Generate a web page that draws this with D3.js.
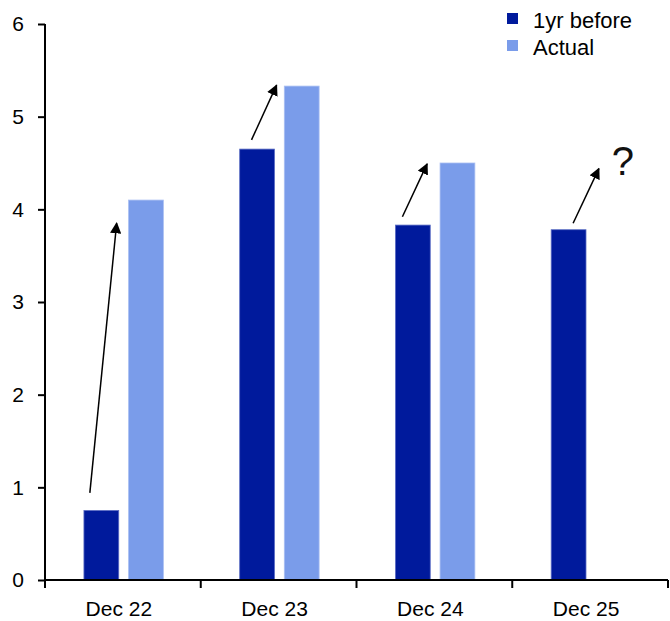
<!DOCTYPE html>
<html>
<head>
<meta charset="utf-8">
<script src="https://cdn.jsdelivr.net/npm/d3@7"></script>
<style>
  html, body { margin: 0; padding: 0; background: #fff; }
  svg { display: block; font-family: "Liberation Sans", Arial, sans-serif; }
</style>
</head>
<body>
<svg id="chart" width="670" height="621"></svg>
<script>
// Forecast made one year before vs. the actual outcome, per December
const categories = ["Dec 22", "Dec 23", "Dec 24", "Dec 25"];
const series = ["1yr before", "Actual"];
const yearBefore = [0.75, 4.65, 3.83, 3.78];
const actual = [4.10, 5.33, 4.50, null];
const yTicks = [0, 1, 2, 3, 4, 5, 6];

// Arrows from the earlier forecast up toward the outcome (values on the y scale)
const arrowFrom = [0.94, 4.75, 3.92, 3.85];
const arrowTo = [3.85, 5.34, 4.49, 4.44];
// Horizontal placement of arrow ends, in widths of one bar from the dark bar's left edge
const arrowFromDx = [0.17, 0.34, 0.20, 0.63];
const arrowToDx = [0.94, 1.06, 0.91, 1.37];
const pendingMark = "?";

const colors = { "1yr before": "#001A9C", "Actual": "#7A9CEA" };

const svg = d3.select("#chart");
const plotLeft = 45, plotRight = 668, plotTop = 24, plotBottom = 580;

const x = d3.scaleBand().domain(categories).range([plotLeft, plotRight]).padding(0);
const bw = x.bandwidth();
const inner = d3.scaleBand().domain(series)
  .range([0.25 * bw, 0.76 * bw]).paddingInner(0.22);
const y = d3.scaleLinear().domain([0, 6]).range([plotBottom, plotTop]);

const rows = categories.map((c, i) => ({
  cat: c, i,
  vals: [
    { s: "1yr before", v: yearBefore[i] },
    { s: "Actual", v: actual[i] }
  ].filter(d => d.v != null)
}));

// bars
const groups = svg.append("g").selectAll("g").data(rows).join("g")
  .attr("transform", d => `translate(${x(d.cat)},0)`);
groups.selectAll("rect").data(d => d.vals).join("rect")
  .attr("x", d => inner(d.s))
  .attr("width", inner.bandwidth())
  .attr("y", d => y(d.v))
  .attr("height", d => y(0) - y(d.v))
  .attr("fill", d => colors[d.s])
  .attr("stroke", d => d.s === "Actual" ? "#a9bff2" : "#5a6cc4")
  .attr("stroke-width", 0.8);

// arrows
const defs = svg.append("defs");
defs.append("marker")
  .attr("id", "head")
  .attr("viewBox", "0 0 10 10")
  .attr("refX", 9).attr("refY", 5)
  .attr("markerWidth", 7.5).attr("markerHeight", 7.5)
  .attr("markerUnits", "strokeWidth")
  .attr("orient", "auto")
  .append("path").attr("d", "M0,0 L10,5 L0,10 Z").attr("fill", "#000");

const barW = inner.bandwidth();
const arrows = categories.map((c, i) => ({
  x1: x(c) + inner("1yr before") + arrowFromDx[i] * barW,
  y1: y(arrowFrom[i]),
  x2: x(c) + inner("1yr before") + arrowToDx[i] * barW,
  y2: y(arrowTo[i])
}));
svg.append("g").selectAll("line").data(arrows).join("line")
  .attr("x1", d => d.x1).attr("y1", d => d.y1)
  .attr("x2", d => d.x2).attr("y2", d => d.y2)
  .attr("stroke", "#000").attr("stroke-width", 1.5)
  .attr("marker-end", "url(#head)");

const last = arrows[arrows.length - 1];
svg.append("text")
  .attr("x", last.x2 + 13).attr("y", last.y2 + 6)
  .attr("font-size", 40).attr("fill", "#111")
  .text(pendingMark);

// y axis
const yAxis = d3.axisLeft(y).tickValues(yTicks).tickFormat(d3.format("d"))
  .tickSize(7).tickPadding(14);
const gy = svg.append("g").attr("transform", `translate(${plotLeft},0)`).call(yAxis);
gy.select(".domain").attr("d", `M0,${plotTop}V${plotBottom}`).attr("stroke-width", 2);
gy.selectAll(".tick line").attr("stroke-width", 2);
gy.selectAll(".tick text").attr("font-size", 21).attr("fill", "#000")
  .attr("font-family", "'Liberation Sans', Arial, sans-serif");

// x axis with ticks at category boundaries
const gx = svg.append("g").attr("transform", `translate(0,${plotBottom})`);
gx.append("line").attr("x1", plotLeft).attr("x2", plotRight)
  .attr("stroke", "#000").attr("stroke-width", 2);
const bounds = categories.map(c => x(c)).concat([plotRight]);
gx.selectAll("line.tk").data(bounds).join("line").attr("class", "tk")
  .attr("x1", d => d).attr("x2", d => d).attr("y1", 0).attr("y2", 8)
  .attr("stroke", "#000").attr("stroke-width", 2);
gx.selectAll("text").data(categories).join("text")
  .attr("x", d => x(d) + bw / 2 - 4)
  .attr("y", 36)
  .attr("text-anchor", "middle")
  .attr("font-size", 21)
  .attr("fill", "#000")
  .text(d => d);

// legend
const legend = svg.append("g").attr("transform", "translate(507,13)");
const li = legend.selectAll("g").data(series).join("g")
  .attr("transform", (d, i) => `translate(0,${i * 27})`);
li.append("rect").attr("width", 11).attr("height", 11)
  .attr("fill", d => colors[d]);
li.append("text").attr("x", 26).attr("y", 15)
  .attr("font-size", 22).attr("fill", "#000").text(d => d);
</script>
</body>
</html>
